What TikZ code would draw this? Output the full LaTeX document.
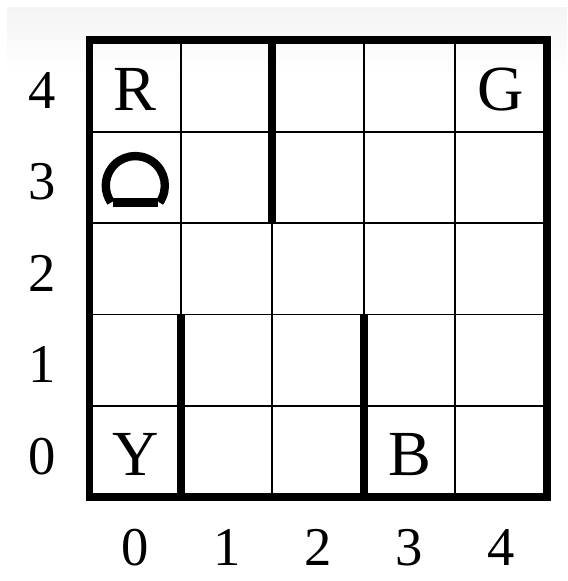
\documentclass[tikz,border=0pt]{standalone}
\usepackage{fontspec}
\setmainfont{Liberation Serif}
\usepackage{tikz}
\usetikzlibrary{calc}
\tikzstyle{gridline} = [line width=0.6pt, draw=black]
\tikzstyle{border} = [line width=2.4pt, draw=black]
\tikzstyle{wall} = [line width=2.5pt, draw=black, line cap=butt]
\tikzstyle{loc} = [inner sep=0pt, font=\fontsize{20}{24}\selectfont]
\tikzstyle{axis} = [inner sep=0pt, font=\fontsize{17}{20}\selectfont]
\tikzstyle{taxi} = [line width=2.6pt, draw=black]

\begin{document}
\begin{tikzpicture}
        \useasboundingbox (-0.98,-0.915) rectangle (5.222,5.44);
        % Page background
        \shade [top color=black!4, bottom color=white, draw=none] (-0.903,4.6) rectangle (5.222,5.363);

        % Grid
        \draw [gridline] (0,0) grid (5,5);
        \draw [border] (0,0) rectangle (5,5);

        % Walls
        \draw [wall] (2,3) -- (2,5);
        \draw [wall] (1,0) -- (1,2);
        \draw [wall] (3,0) -- (3,2);

        % Locations
        \node (R) [loc] at (0.5,4.46) {R};
        \node (G) [loc] at (4.5,4.46) {G};
        \node (Y) [loc] at (0.5,0.47) {Y};
        \node (B) [loc] at (3.5,0.47) {B};

        % Taxi
        \coordinate (cab) at (0.5,3.41);
        \draw [taxi] ($(cab)+(-35:0.323)$) arc [start angle=-35, end angle=215, radius=0.323];
        \draw [taxi] (0.26,3.225) -- (0.75,3.225);

        % Row labels
        \node (row0) [axis] at (-0.515,0.45) {0};
        \node (row1) [axis] at (-0.515,1.45) {1};
        \node (row2) [axis] at (-0.515,2.45) {2};
        \node (row3) [axis] at (-0.515,3.45) {3};
        \node (row4) [axis] at (-0.515,4.45) {4};

        % Column labels
        \node (col0) [axis] at (0.5,-0.55) {0};
        \node (col1) [axis] at (1.5,-0.55) {1};
        \node (col2) [axis] at (2.5,-0.55) {2};
        \node (col3) [axis] at (3.5,-0.55) {3};
        \node (col4) [axis] at (4.5,-0.55) {4};
      \end{tikzpicture}
\end{document}
